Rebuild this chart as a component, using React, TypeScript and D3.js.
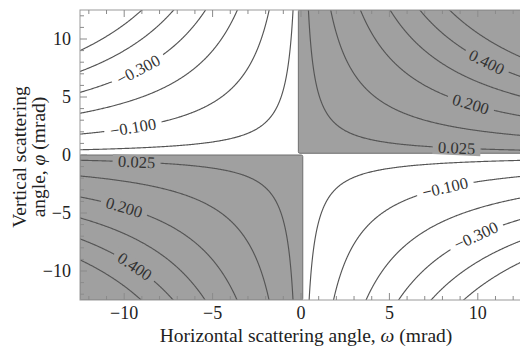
import React, { useEffect, useMemo } from 'react';
import * as d3 from 'd3';

// axis extents (mrad)
const omegaDomain = [-12.5, 12.5];
const phiDomain = [-12.5, 12.5];
const xTickValues = [-10, -5, 0, 5, 10];
const yTickValues = [-10, -5, 0, 5, 10];

// contour levels drawn
const levels = [-0.5, -0.4, -0.3, -0.2, -0.1, -0.025, 0.025, 0.1, 0.2, 0.3, 0.4, 0.5];

// omega*phi (mrad^2) per unit of level, read per quadrant: TL, TR, BL, BR
const quadrantScale = [225, 210, 226, 230];

// labelled contours: level and the omega where the label sits
const labelLevels = [-0.3, -0.1, 0.4, 0.2, 0.025, -0.1, -0.3, 0.025, 0.2, 0.4];
const labelOmega = [-9.2, -9.5, 10.5, 9.6, 8.8, 8.15, 9.9, -9.3, -10, -9.4];

// shaded (positive) regions: [omega0, omega1, phi0, phi1]
const shadedRegions = [
  [-0.15, 12.5, 0.15, 12.5],
  [-12.5, 0.1, -12.5, 0],
];

const W = 520;
const H = 347;
const margin = { left: 80, right: 520, top: 10, bottom: 300 };
const SHADE = '#a0a0a0';
const serif = '"Liberation Serif", "DejaVu Serif", serif';

const scaleFor = (w: number, p: number) =>
  w < 0 ? (p >= 0 ? quadrantScale[0] : quadrantScale[2]) : (p >= 0 ? quadrantScale[1] : quadrantScale[3]);

const App = () => {
  useEffect(() => {
    document.body.style.margin = '0';
  }, []);

  const x = d3.scaleLinear().domain(omegaDomain).range([margin.left, 522]);
  const y = d3.scaleLinear().domain(phiDomain).range([margin.bottom, margin.top]);

  const paths = useMemo(() => {
    const step = 0.05;
    const g0 = -13.5;
    const n = Math.round(27 / step) + 1;
    const values = new Float64Array(n * n);
    for (let j = 0; j < n; j++) {
      const p = g0 + j * step;
      for (let i = 0; i < n; i++) {
        const w = g0 + i * step;
        values[j * n + i] = (w * p) / scaleFor(w, p);
      }
    }
    const contours = d3.contours().size([n, n]).thresholds(levels)(Array.from(values));
    const path = d3.geoPath(
      d3.geoTransform({
        point(px: number, py: number) {
          this.stream.point(x(g0 + (px - 0.5) * step), y(g0 + (py - 0.5) * step));
        },
      })
    );
    return contours.map((c) => path(c as any) || '');
  }, []);

  const fmt = d3.format('.3f');
  const labels = labelLevels.map((lv, i) => {
    const w = labelOmega[i];
    const k = lv * scaleFor(w, lv / w);
    const p = k / w;
    const dw = 0.3;
    const x1 = x(w - dw), y1 = y(k / (w - dw));
    const x2 = x(w + dw), y2 = y(k / (w + dw));
    const angle = (Math.atan2(y2 - y1, x2 - x1) * 180) / Math.PI;
    const shaded = (w < 0 && p < 0) || (w > 0 && p > 0);
    return { cx: x(w), cy: y(p), angle, text: fmt(lv), bg: shaded ? SHADE : '#ffffff', neg: lv < 0 };
  });

  const minorTicks = d3.range(-12, 13);

  return (
    <svg width={W} height={H} style={{ position: 'absolute', left: 0, top: 0, background: '#fff' }}>
      <defs>
        <clipPath id="plot">
          <rect x={margin.left} y={margin.top} width={522 - margin.left} height={margin.bottom - margin.top} />
        </clipPath>
      </defs>
      <g clipPath="url(#plot)">
        {shadedRegions.map((r, i) => (
          <rect
            key={i}
            x={x(r[0])}
            y={y(r[3])}
            width={x(r[1]) - x(r[0])}
            height={y(r[2]) - y(r[3])}
            rx={1.5}
            fill={SHADE}
            stroke="#6e6e6e"
            strokeWidth={1}
          />
        ))}
        {paths.map((d, i) => (
          <path key={i} d={d} fill="none" stroke="#555" strokeWidth={1.15} />
        ))}
        {labels.map((l, i) => (
          <g key={i} transform={`translate(${l.cx},${l.cy}) rotate(${l.angle})`}>
            <rect x={l.neg ? -29 : -24} y={-7} width={l.neg ? 58 : 48} height={14} fill={l.bg} />
            <text
              textAnchor="middle"
              dominantBaseline="central"
              fontFamily={serif}
              fontSize={16.5}
              fill="#333"
            >
              {l.text}
            </text>
          </g>
        ))}
      </g>
      {/* frame */}
      <rect
        x={margin.left}
        y={margin.top}
        width={522 - margin.left}
        height={margin.bottom - margin.top}
        fill="none"
        stroke="#999"
        strokeWidth={1}
      />
      {/* ticks */}
      {minorTicks.map((t) => {
        const len = t % 5 === 0 ? 7 : 4;
        return (
          <g key={t} stroke="#8a8a8a" strokeWidth={1}>
            <line x1={x(t)} x2={x(t)} y1={margin.bottom} y2={margin.bottom - len} />
            <line x1={x(t)} x2={x(t)} y1={margin.top} y2={margin.top + len} />
            <line x1={margin.left} x2={margin.left + len} y1={y(t)} y2={y(t)} />
          </g>
        );
      })}
      {xTickValues.map((t) => (
        <text
          key={t}
          x={x(t)}
          y={319}
          textAnchor="middle"
          fontFamily={serif}
          fontSize={18}
          fill="#222"
        >
          {d3.format('d')(t)}
        </text>
      ))}
      {yTickValues.map((t) => (
        <text
          key={t}
          x={71}
          y={y(t)}
          textAnchor="end"
          dominantBaseline="central"
          fontFamily={serif}
          fontSize={18}
          fill="#222"
        >
          {d3.format('d')(t)}
        </text>
      ))}
      <text x={306} y={342} textAnchor="middle" fontFamily={serif} fontSize={19.5} fill="#222">
        Horizontal scattering angle, <tspan fontStyle="italic">ω</tspan> (mrad)
      </text>
      <g transform="translate(0,157) rotate(-90)">
        <text x={0} y={26} textAnchor="middle" fontFamily={serif} fontSize={19.5} fill="#222">
          Vertical scattering
        </text>
        <text x={0} y={45} textAnchor="middle" fontFamily={serif} fontSize={19.5} fill="#222">
          angle, <tspan fontStyle="italic">φ</tspan> (mrad)
        </text>
      </g>
    </svg>
  );
};

export default App;
